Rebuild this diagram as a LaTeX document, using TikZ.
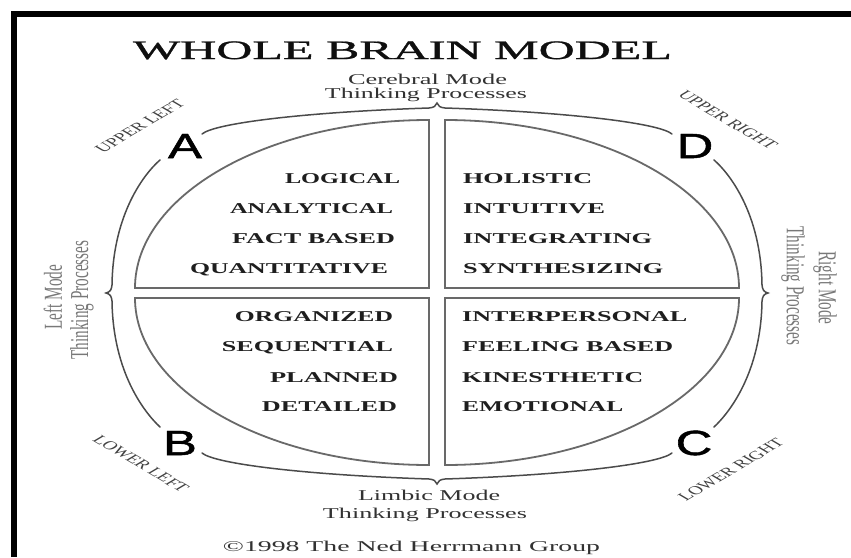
\documentclass[tikz,border=0pt]{standalone}
\usepackage{fontspec}
\setmainfont{Liberation Serif}
\newfontfamily\lettersans[FakeBold=1.2]{Liberation Sans}
\newfontfamily\titlefont[FakeBold=0.8]{Liberation Serif}
\newcommand\wfit[2]{\resizebox{#1pt}{\height}{#2}}
\newcommand\hstretch[2]{\scalebox{#1}[1]{#2}}
\definecolor{quadcol}{RGB}{105,105,105}
\definecolor{bracecol}{RGB}{75,75,75}
\definecolor{wordcol}{RGB}{30,30,30}
\definecolor{lblcol}{RGB}{50,50,50}
\definecolor{sidecol}{RGB}{120,120,120}
\definecolor{cornercol}{RGB}{65,65,65}
\definecolor{titlecol}{RGB}{15,15,15}
\tikzset{
  titlestyle/.style={anchor=base, inner sep=0pt, font=\titlefont\fontsize{26.6}{30}\selectfont, text=titlecol},
  wordL/.style={anchor=base, inner sep=0pt, font=\fontsize{15}{15}\selectfont\bfseries, text=wordcol},
  wordR/.style={wordL, anchor=base west},
  lbl/.style={anchor=base, inner sep=0pt, font=\fontsize{15}{16}\selectfont, text=lblcol},
  sidelbl/.style={inner sep=0pt, font=\fontsize{15.2}{16}\selectfont, text=sidecol},
  cornerlbl/.style={inner sep=0pt, font=\fontsize{12}{12}\selectfont, text=cornercol},
  letter/.style={inner sep=0pt, font=\lettersans\fontsize{35}{35}\selectfont, text=black},
  quad/.style={draw=quadcol, line width=1.8pt, line join=miter},
  brace/.style={draw=bracecol, line width=1.5pt, line cap=round}
}
\begin{document}
\begin{tikzpicture}[x=1pt,y=-1pt]
\useasboundingbox (0,0) rectangle (851,557);
\fill[white] (0,0) rectangle (851,557);
% frame
\draw[line width=5.5pt, line join=miter] (14,557) -- (14,14) -- (851,14);

% title
\node[titlestyle] (title) at (402.5,59) {\wfit{539}{WHOLE BRAIN MODEL}};

\begin{scope}[shift={(437,293)}]
  % quadrants
  \draw[quad] (-8,-5) -- (-8,-173) .. controls (-170,-173) and (-302,-97.8) .. (-302,-5) -- cycle;
  \draw[quad] (8,-5) -- (8,-173) .. controls (170,-173) and (302,-97.8) .. (302,-5) -- cycle;
  \draw[quad] (-8,5) -- (-8,172) .. controls (-170,172) and (-302,97) .. (-302,5) -- cycle;
  \draw[quad] (8,5) -- (8,172) .. controls (170,172) and (302,97) .. (302,5) -- cycle;
  % braces
  \draw[brace] (-235,-159) .. controls (-222,-170) and (-130,-181) .. (-8,-185)
               .. controls (-3,-185.5) and (-1,-187) .. (0,-190)
               .. controls (1,-187) and (3,-185.5) .. (8,-185)
               .. controls (130,-181) and (222,-170) .. (235,-159);
  \draw[brace] (-235,160) .. controls (-222,171) and (-130,182) .. (-8,186)
               .. controls (-3,186.5) and (-1,188) .. (0,191)
               .. controls (1,188) and (3,186.5) .. (8,186)
               .. controls (130,182) and (222,171) .. (235,160);
  \draw[brace] (-277,-133) .. controls (-292,-120) and (-324,-80) .. (-325,-8)
               .. controls (-325.5,-3) and (-327,-1) .. (-331,0)
               .. controls (-327,1) and (-325.5,3) .. (-325,8)
               .. controls (-324,80) and (-292,120) .. (-277,134);
  \draw[brace] (277,-133) .. controls (292,-120) and (324,-80) .. (325,-8)
               .. controls (325.5,-3) and (327,-1) .. (331,0)
               .. controls (327,1) and (325.5,3) .. (325,8)
               .. controls (324,80) and (292,120) .. (277,134);
\end{scope}

% top and bottom labels
\node[lbl] (cer1) at (427.5,84) {\wfit{159}{Cerebral Mode}};
\node[lbl] (cer2) at (426,98) {\wfit{202}{Thinking Processes}};
\node[lbl] (lim1) at (429,500) {\wfit{142}{Limbic Mode}};
\node[lbl] (lim2) at (425,518) {\wfit{204}{Thinking Processes}};
\node[lbl] (copy) at (411.5,551) {\wfit{377}{©1998 The Ned Herrmann Group}};

% side labels
\node[sidelbl] (lm1) at (53,297) {\hstretch{1.7}{\rotatebox{90}{Left Mode}}};
\node[sidelbl] (lm2) at (82,300) {\hstretch{1.7}{\rotatebox{90}{Thinking Processes}}};
\node[sidelbl] (rm1) at (825,288) {\hstretch{1.7}{\rotatebox{-90}{Right Mode}}};
\node[sidelbl] (rm2) at (793,286) {\hstretch{1.7}{\rotatebox{-90}{Thinking Processes}}};

% corner labels
\node[cornerlbl] (ul) at (140,126) {\hstretch{1.7}{\rotatebox{45}{UPPER LEFT}}};
\node[cornerlbl] (ur) at (728,120) {\hstretch{1.7}{\rotatebox{-45}{UPPER RIGHT}}};
\node[cornerlbl] (ll) at (141,464) {\hstretch{1.7}{\rotatebox{-45}{LOWER LEFT}}};
\node[cornerlbl] (lr) at (731,470) {\hstretch{1.7}{\rotatebox{45}{LOWER RIGHT}}};

% letters
\node[letter] (A) at (185,146) {\hstretch{1.45}{A}};
\node[letter] (D) at (695,146) {\hstretch{1.45}{D}};
\node[letter] (B) at (180,443) {\hstretch{1.45}{B}};
\node[letter] (C) at (694,443) {\hstretch{1.45}{C}};

% quadrant words, upper left
\node[wordL] (w1) at (342.5,183) {\wfit{115}{LOGICAL}};
\node[wordL] (w2) at (311.5,213) {\wfit{163}{ANALYTICAL}};
\node[wordL] (w3) at (313.5,243) {\wfit{163}{FACT BASED}};
\node[wordL] (w4) at (289,273) {\wfit{198}{QUANTITATIVE}};
% lower left
\node[wordL] (w5) at (314,321) {\wfit{158}{ORGANIZED}};
\node[wordL] (w6) at (307.5,351) {\wfit{171}{SEQUENTIAL}};
\node[wordL] (w7) at (334,382) {\wfit{128}{PLANNED}};
\node[wordL] (w8) at (329.5,411) {\wfit{135}{DETAILED}};
% upper right
\node[wordR] (w9) at (463,183) {\wfit{129}{HOLISTIC}};
\node[wordR] (w10) at (463,213) {\wfit{142}{INTUITIVE}};
\node[wordR] (w11) at (463,243) {\wfit{189}{INTEGRATING}};
\node[wordR] (w12) at (463,273) {\wfit{200}{SYNTHESIZING}};
% lower right
\node[wordR] (w13) at (462,321) {\wfit{225}{INTERPERSONAL}};
\node[wordR] (w14) at (462,351) {\wfit{211}{FEELING BASED}};
\node[wordR] (w15) at (462,382) {\wfit{181}{KINESTHETIC}};
\node[wordR] (w16) at (462,411) {\wfit{161}{EMOTIONAL}};
\end{tikzpicture}
\end{document}
